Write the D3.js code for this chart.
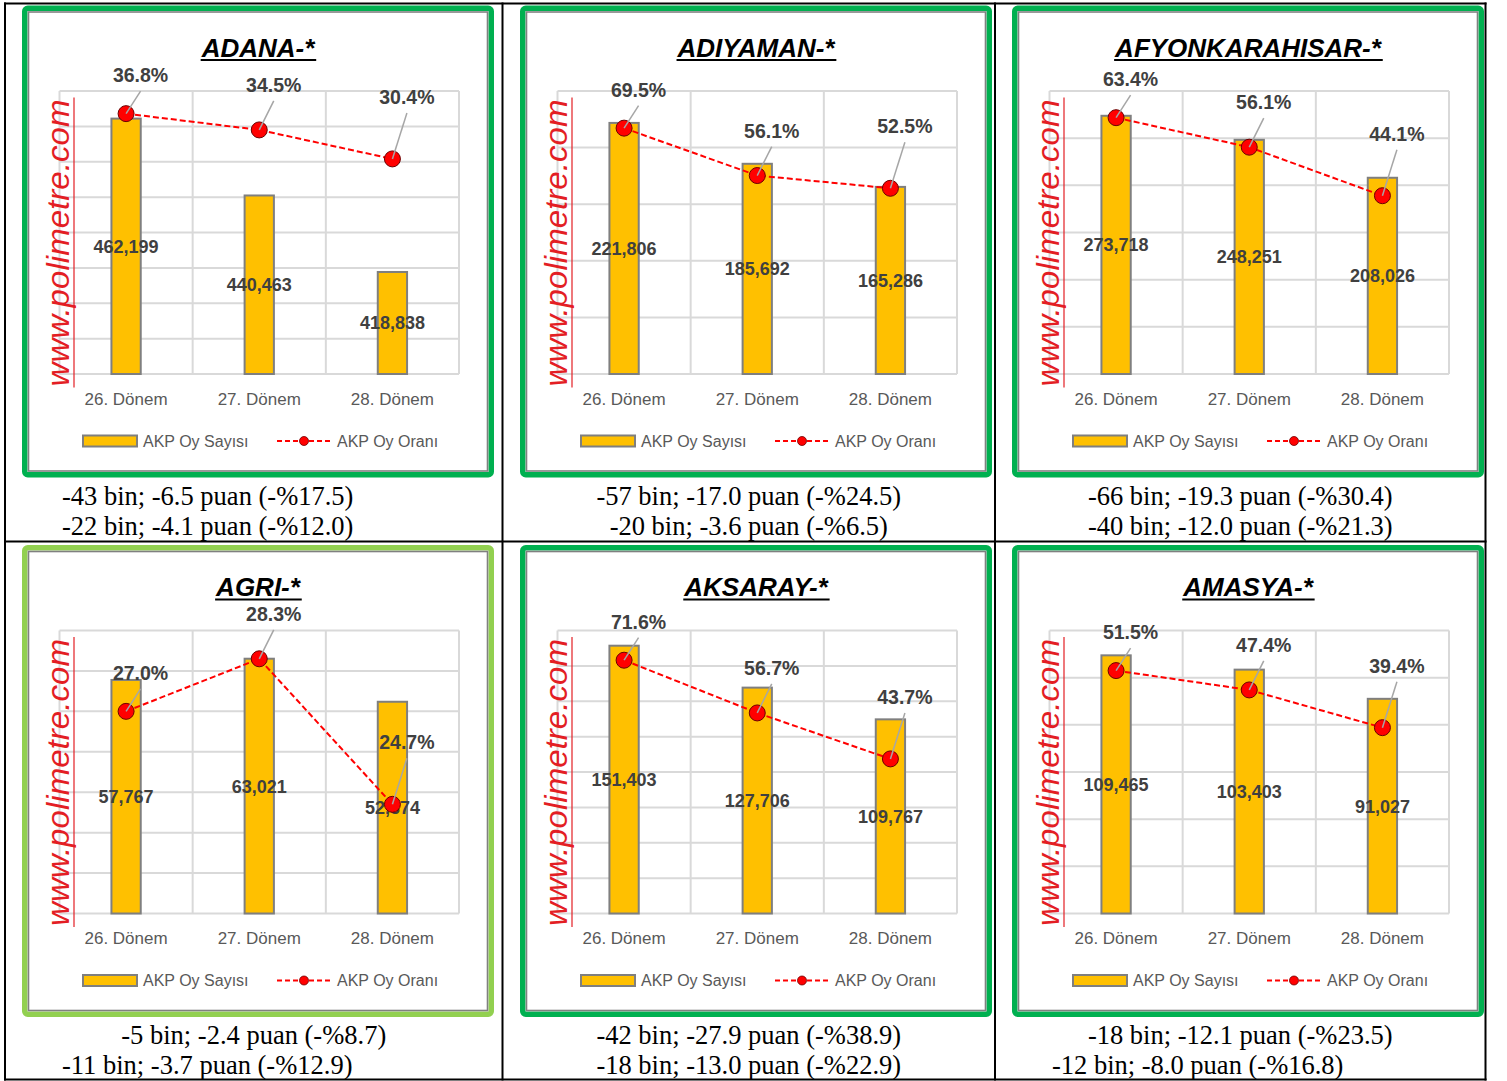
<!DOCTYPE html>
<html>
<head>
<meta charset="utf-8">
<script src="https://cdn.jsdelivr.net/npm/d3@7"></script>
<style>
  body { margin: 0; background: #fff; }
  svg { display: block; }
</style>
</head>
<body>
<svg id="chart"></svg>
<script>
// ---- data ----
const provinces = ["ADANA-*", "ADIYAMAN-*", "AFYONKARAHISAR-*", "AGRI-*", "AKSARAY-*", "AMASYA-*"];
const periods = ["26. Dönem", "27. Dönem", "28. Dönem"];
const voteCounts = [
  [462199, 440463, 418838],
  [221806, 185692, 165286],
  [273718, 248251, 208026],
  [57767, 63021, 52374],
  [151403, 127706, 109767],
  [109465, 103403, 91027]
];
const voteShares = [
  [36.8, 34.5, 30.4],
  [69.5, 56.1, 52.5],
  [63.4, 56.1, 44.1],
  [27.0, 28.3, 24.7],
  [71.6, 56.7, 43.7],
  [51.5, 47.4, 39.4]
];
// primary axis [min, max, step] and secondary axis [min, max] (percent)
const countAxis = [
  [390000, 470000, 10000],
  [0, 250000, 50000],
  [0, 300000, 50000],
  [0, 70000, 10000],
  [0, 160000, 20000],
  [0, 120000, 20000]
];
const shareAxis = [[0, 40], [0, 80], [0, 70], [22, 29], [0, 80], [0, 60]];
const legendLabels = ["AKP Oy Sayısı", "AKP Oy Oranı"];
const watermark = "www.polimetre.com";
const notes = [
  ["-43 bin; -6.5 puan (-%17.5)", "-22 bin; -4.1 puan (-%12.0)"],
  ["-57 bin; -17.0 puan (-%24.5)", "-20 bin; -3.6 puan (-%6.5)"],
  ["-66 bin; -19.3 puan (-%30.4)", "-40 bin; -12.0 puan (-%21.3)"],
  ["-5 bin; -2.4 puan (-%8.7)", "-11 bin; -3.7 puan (-%12.9)"],
  ["-42 bin; -27.9 puan (-%38.9)", "-18 bin; -13.0 puan (-%22.9)"],
  ["-18 bin; -12.1 puan (-%23.5)", "-12 bin; -8.0 puan (-%16.8)"]
];

// ---- layout / style ----
const W = 1507, H = 1081;
const colX = [5, 502.5, 995, 1485.5];
const rowY = [3.5, 541.5, 1079.5];
const frameX = [22, 520, 1012];
const frameY = [5.5, 545];
const frameW = 472, frameH = 472;
const frameColor = ["#00b050", "#00b050", "#00b050", "#92d050", "#00b050", "#00b050"];
const noteAlign = [["l", "l"], ["c", "c"], ["c", "c"], ["c", "l"], ["c", "c"], ["c", "l"]];
const labelDy = [-38.5, -45, -62];
const sans = "'Liberation Sans', Arial, sans-serif";
const serif = "'Liberation Serif', 'Times New Roman', serif";

const svg = d3.select("#chart").attr("width", W).attr("height", H);
svg.append("rect").attr("width", W).attr("height", H).attr("fill", "#fff");

function drawChart(k) {
  const fx = frameX[k % 3], fy = frameY[Math.floor(k / 3)];
  const g = svg.append("g");

  // frame: thick green border with a thin grey inner line
  g.append("rect")
    .attr("x", fx + 2.75).attr("y", 2.75 + fy)
    .attr("width", frameW - 5.5).attr("height", frameH - 5.5)
    .attr("rx", 3)
    .attr("fill", "#fff").attr("stroke", frameColor[k]).attr("stroke-width", 5.5);
  g.append("rect")
    .attr("x", fx + 6.5).attr("y", fy + 6.5)
    .attr("width", frameW - 13).attr("height", frameH - 13)
    .attr("fill", "none").attr("stroke", "#808080").attr("stroke-width", 1.6);

  const left = fx + 37.5, right = fx + 437, top = fy + 85.5, bottom = fy + 368.5;

  const x = d3.scaleBand().domain(periods).range([left, right])
    .paddingInner(0.78).paddingOuter(0.39);
  const step = x.step();
  const [cMin, cMax, cStep] = countAxis[k];
  const yCount = d3.scaleLinear().domain([cMin, cMax]).range([bottom, top]);
  const yShare = d3.scaleLinear().domain(shareAxis[k]).range([bottom, top]);

  // gridlines
  const grid = g.append("g").attr("stroke", "#d9d9d9").attr("stroke-width", 2);
  grid.selectAll("line.h")
    .data(d3.range(cMin, cMax + cStep / 2, cStep))
    .join("line")
    .attr("x1", left).attr("x2", right)
    .attr("y1", d => yCount(d)).attr("y2", d => yCount(d));
  grid.selectAll("line.v")
    .data(d3.range(0, periods.length + 1))
    .join("line")
    .attr("x1", i => left + i * step).attr("x2", i => left + i * step)
    .attr("y1", top).attr("y2", bottom);

  const counts = voteCounts[k], shares = voteShares[k];

  // bars
  g.append("g").selectAll("rect")
    .data(counts)
    .join("rect")
    .attr("x", (d, i) => x(periods[i]))
    .attr("width", x.bandwidth())
    .attr("y", d => yCount(d))
    .attr("height", d => bottom - yCount(d))
    .attr("fill", "#ffc000").attr("stroke", "#7f7f7f").attr("stroke-width", 2);

  // bar value labels, centred in the bar
  g.append("g").selectAll("text")
    .data(counts)
    .join("text")
    .attr("x", (d, i) => x(periods[i]) + x.bandwidth() / 2)
    .attr("y", d => (yCount(d) + bottom) / 2 + 6.5)
    .attr("text-anchor", "middle")
    .attr("font-family", sans).attr("font-weight", "bold").attr("font-size", 18)
    .attr("fill", "#404040")
    .text(d => d3.format(",")(d));

  const cx = i => x(periods[i]) + x.bandwidth() / 2;

  // share line
  const line = d3.line().x((d, i) => cx(i)).y(d => yShare(d));
  g.append("path")
    .datum(shares)
    .attr("d", line)
    .attr("fill", "none").attr("stroke", "#ff0000").attr("stroke-width", 2)
    .attr("stroke-dasharray", "6,3");

  g.append("g").selectAll("circle")
    .data(shares)
    .join("circle")
    .attr("cx", (d, i) => cx(i)).attr("cy", d => yShare(d))
    .attr("r", 8)
    .attr("fill", "#ff0000").attr("stroke", "#6b0000").attr("stroke-width", 1);

  // leader lines + percent labels
  g.append("g").selectAll("line")
    .data(shares)
    .join("line")
    .attr("x1", (d, i) => cx(i)).attr("y1", d => yShare(d))
    .attr("x2", (d, i) => cx(i) + 14.5).attr("y2", (d, i) => yShare(d) + labelDy[i] + 16)
    .attr("stroke", "#a6a6a6").attr("stroke-width", 1.5);

  g.append("g").selectAll("text")
    .data(shares)
    .join("text")
    .attr("x", (d, i) => cx(i) + 14.5)
    .attr("y", (d, i) => yShare(d) + labelDy[i] + 7)
    .attr("text-anchor", "middle")
    .attr("font-family", sans).attr("font-weight", "bold").attr("font-size", 19.5)
    .attr("fill", "#404040")
    .text(d => d.toFixed(1) + "%");

  // watermark
  g.append("line")
    .attr("x1", fx + 52).attr("x2", fx + 52)
    .attr("y1", fy + 92).attr("y2", fy + 382)
    .attr("stroke", "#e31e24").attr("stroke-width", 1.2);
  g.append("text")
    .attr("transform", `translate(${fx + 47},${fy + 381}) rotate(-90)`)
    .attr("font-family", sans).attr("font-style", "italic").attr("font-size", 31)
    .attr("textLength", 287).attr("lengthAdjust", "spacingAndGlyphs")
    .attr("fill", "#e31e24")
    .text(watermark);

  // category labels
  g.append("g").selectAll("text")
    .data(periods)
    .join("text")
    .attr("x", d => x(d) + x.bandwidth() / 2)
    .attr("y", fy + 399)
    .attr("text-anchor", "middle")
    .attr("font-family", sans).attr("font-size", 17)
    .attr("fill", "#595959")
    .text(d => d);

  // legend
  const ly = fy + 435.5;
  g.append("rect")
    .attr("x", fx + 61).attr("y", ly - 5.5).attr("width", 54).attr("height", 11)
    .attr("fill", "#ffc000").attr("stroke", "#7f7f7f").attr("stroke-width", 2);
  g.append("line")
    .attr("x1", fx + 255).attr("x2", fx + 309).attr("y1", ly).attr("y2", ly)
    .attr("stroke", "#ff0000").attr("stroke-width", 2).attr("stroke-dasharray", "5,3");
  g.append("circle")
    .attr("cx", fx + 282).attr("cy", ly).attr("r", 4.5)
    .attr("fill", "#ff0000").attr("stroke", "#6b0000").attr("stroke-width", 0.8);
  g.selectAll("text.leg")
    .data(legendLabels)
    .join("text")
    .attr("x", (d, i) => fx + (i === 0 ? 121 : 315))
    .attr("y", ly + 5.5)
    .attr("font-family", sans).attr("font-size", 16)
    .attr("fill", "#595959")
    .text(d => d);

  // title with underline
  const title = g.append("text")
    .attr("x", fx + frameW / 2).attr("y", fy + 51)
    .attr("text-anchor", "middle")
    .attr("font-family", sans).attr("font-weight", "bold").attr("font-style", "italic")
    .attr("font-size", 26).attr("fill", "#000")
    .text(provinces[k]);
  const bb = title.node().getBBox();
  g.append("line")
    .attr("x1", bb.x).attr("x2", bb.x + bb.width)
    .attr("y1", fy + 54.5).attr("y2", fy + 54.5)
    .attr("stroke", "#000").attr("stroke-width", 2);

  // notes under the picture, inside the table cell
  const c = k % 3;
  g.selectAll("text.note")
    .data(notes[k])
    .join("text")
    .attr("x", (d, j) => noteAlign[k][j] === "c" ? (colX[c] + colX[c + 1]) / 2 : colX[c] + 57)
    .attr("y", (d, j) => fy + frameH + 27 + j * 30)
    .attr("text-anchor", (d, j) => noteAlign[k][j] === "c" ? "middle" : "start")
    .attr("font-family", serif).attr("font-size", 26.5).attr("fill", "#000")
    .text(d => d);
}

provinces.forEach((p, k) => drawChart(k));

// table grid
const tbl = svg.append("g").attr("stroke", "#000").attr("stroke-width", 2);
tbl.selectAll("line.c")
  .data(colX)
  .join("line")
  .attr("x1", d => d).attr("x2", d => d)
  .attr("y1", rowY[0] - 1).attr("y2", rowY[2] + 1);
tbl.selectAll("line.r")
  .data(rowY)
  .join("line")
  .attr("x1", colX[0] - 1).attr("x2", colX[3] + 1)
  .attr("y1", d => d).attr("y2", d => d);
</script>
</body>
</html>
